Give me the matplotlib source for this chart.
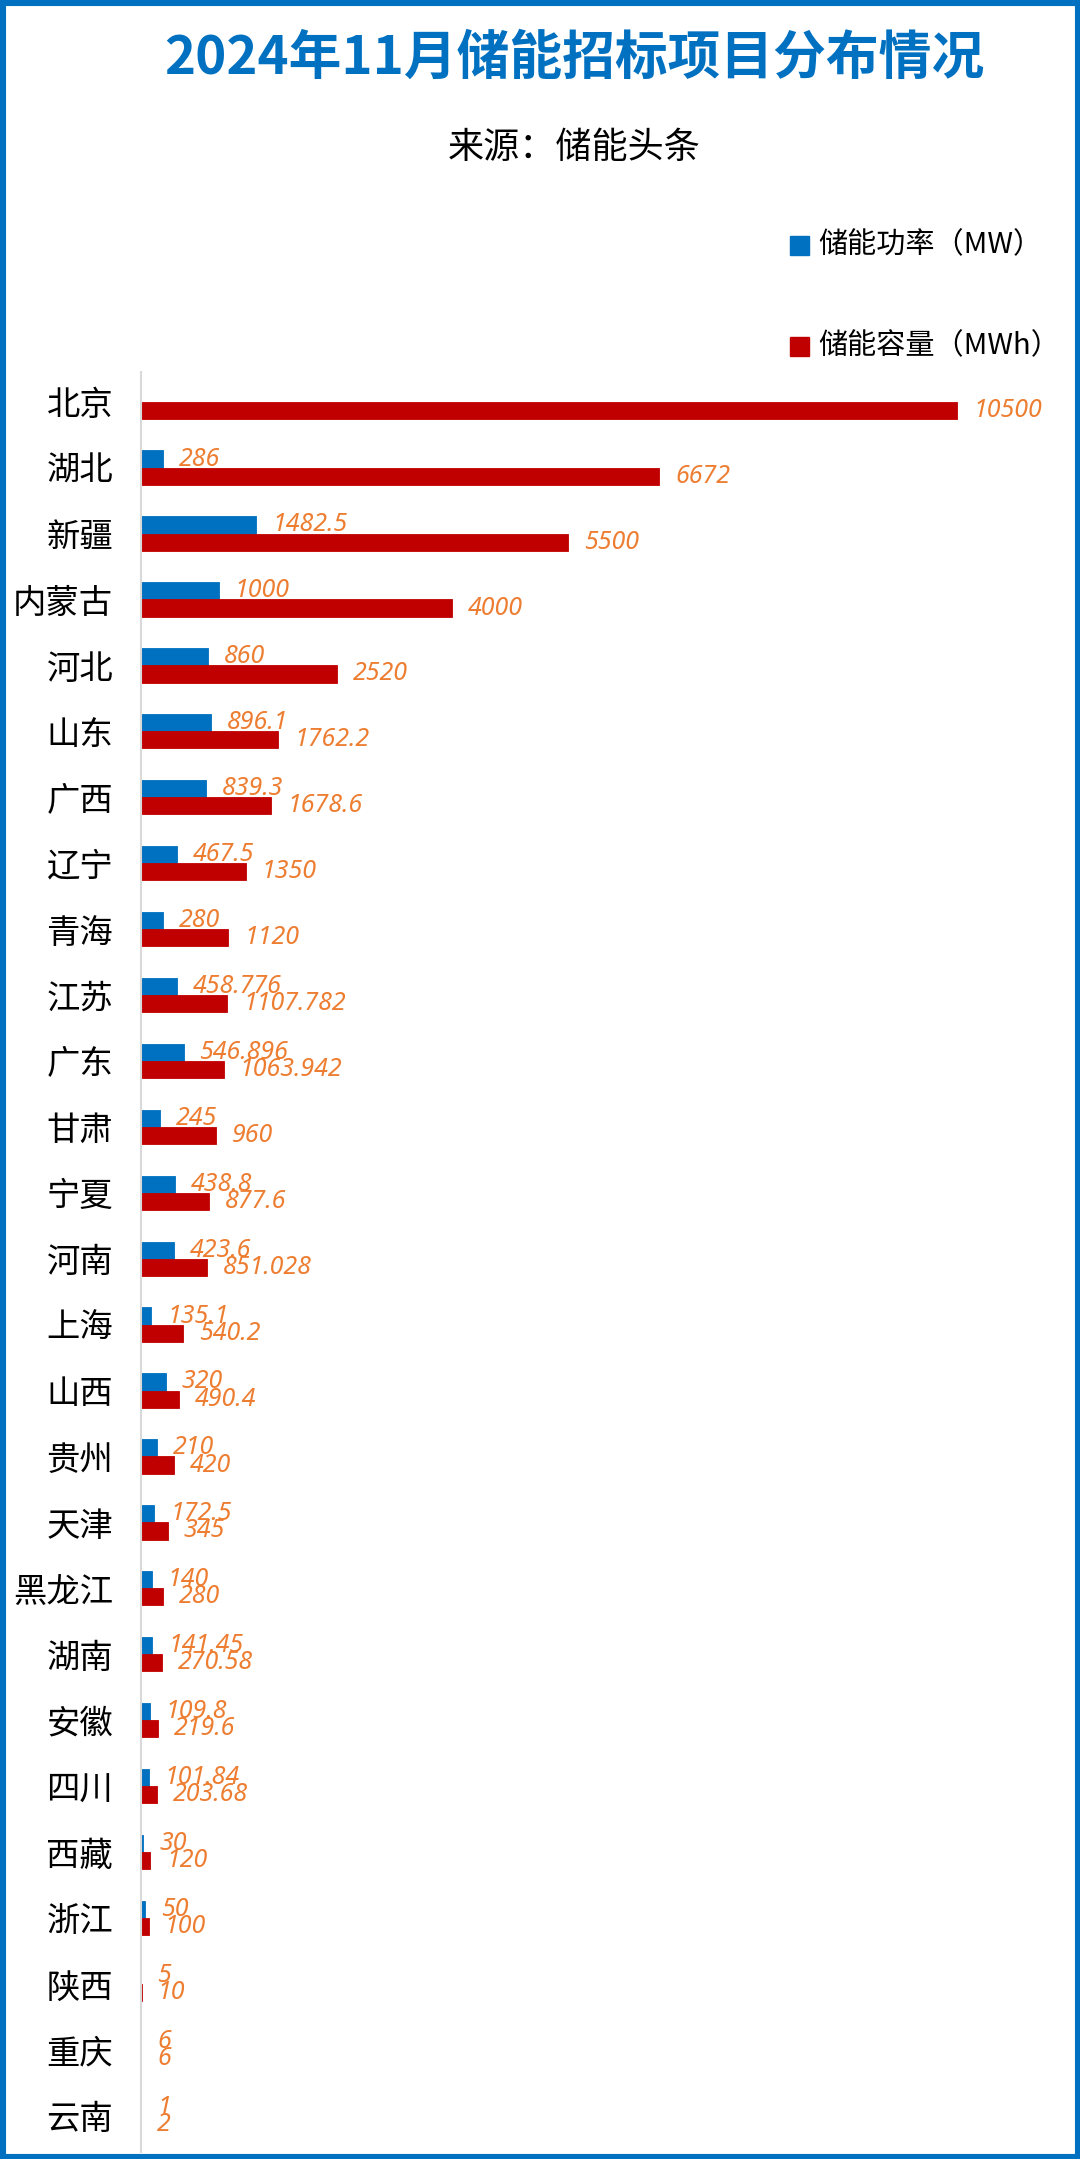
import matplotlib
matplotlib.use("Agg")
import matplotlib.pyplot as plt
from matplotlib.patches import Rectangle

plt.rcParams['font.family'] = ['Noto Sans CJK SC', 'DejaVu Sans']

# 数据
provinces = ["北京", "湖北", "新疆", "内蒙古", "河北", "山东", "广西", "辽宁", "青海",
             "江苏", "广东", "甘肃", "宁夏", "河南", "上海", "山西", "贵州", "天津",
             "黑龙江", "湖南", "安徽", "四川", "西藏", "浙江", "陕西", "重庆", "云南"]
power_mw = [None, 286, 1482.5, 1000, 860, 896.1, 839.3, 467.5, 280,
            458.776, 546.896, 245, 438.8, 423.6, 135.1, 320, 210, 172.5,
            140, 141.45, 109.8, 101.84, 30, 50, 5, 6, 1]
capacity_mwh = [10500, 6672, 5500, 4000, 2520, 1762.2, 1678.6, 1350, 1120,
                1107.782, 1063.942, 960, 877.6, 851.028, 540.2, 490.4, 420, 345,
                280, 270.58, 219.6, 203.68, 120, 100, 10, 6, 2]

title = "2024年11月储能招标项目分布情况"
source = "来源：储能头条"
legend_power = "储能功率（MW）"
legend_cap = "储能容量（MWh）"

BLUE = "#0070C0"
RED = "#C00000"
ORANGE = "#ED7D31"

W, H = 1080, 2159
fig = plt.figure(figsize=(W / 100, H / 100), dpi=100)

ax = fig.add_axes([141 / W, 7 / H, 917 / W, 1780 / H])
h = 0.26
ypos = list(range(len(provinces)))


def fmt(v):
    return ("%f" % v).rstrip("0").rstrip(".")


lab_kw = dict(textcoords="offset pixels", ha="left", va="center", color=ORANGE,
              fontsize=18, fontstyle="italic", family=["Noto Sans", "DejaVu Sans"])

for i, (p, c) in enumerate(zip(power_mw, capacity_mwh)):
    if p is not None:
        ax.barh(i - h / 2, p, height=h, color=BLUE, edgecolor=BLUE, linewidth=0.6)
        ax.annotate(fmt(p), (p, i - h / 2), xytext=(16, 0), **lab_kw)
    ax.barh(i + h / 2, c, height=h, color=RED, edgecolor=RED, linewidth=0.6)
    ax.annotate(fmt(c), (c, i + h / 2), xytext=(16, 0), **lab_kw)

ax.set_xlim(0, 11800)
ax.set_ylim(26.55, -0.45)
ax.set_yticks(ypos)
ax.set_yticklabels(provinces, fontsize=24)
ax.tick_params(axis="y", length=0, pad=20)
ax.set_xticks([])
for s in ["top", "right", "bottom"]:
    ax.spines[s].set_visible(False)
ax.spines["left"].set_color("#D9D9D9")
ax.spines["left"].set_linewidth(1.5)

# 标题和来源
fig.text(574 / W, 1 - 58 / H, title, ha="center", va="center", color=BLUE,
         fontsize=38, fontweight="bold")
fig.text(574 / W, 1 - 148 / H, source, ha="center", va="center", color="black",
         fontsize=26)

# 图例
for yc, col, txt in [(245, BLUE, legend_power), (346, RED, legend_cap)]:
    fig.patches.append(Rectangle((790 / W, 1 - (yc + 10) / H), 19 / W, 19 / H,
                                 transform=fig.transFigure, color=col))
    fig.text(818 / W, 1 - yc / H, txt, ha="left", va="center", fontsize=21)

# 外框
fig.patches.append(Rectangle((0, 0), 1, 1, transform=fig.transFigure, fill=False,
                             edgecolor=BLUE, linewidth=8))

fig.savefig("out.png", dpi=100)
